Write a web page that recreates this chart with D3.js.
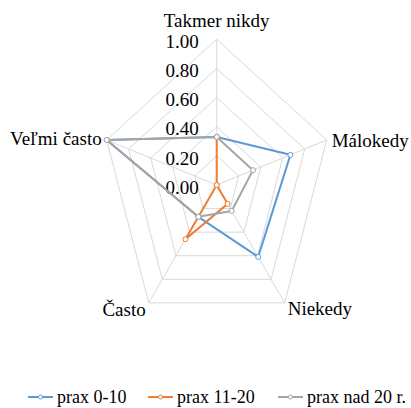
<!DOCTYPE html>
<html>
<head>
<meta charset="utf-8">
<script src="https://cdn.jsdelivr.net/npm/d3@7"></script>
<style>
  body { margin: 0; background: #fff; }
</style>
</head>
<body>
<svg id="chart"></svg>
<script>
// data
const categories = ["Takmer nikdy", "Málokedy", "Niekedy", "Často", "Veľmi často"];
const prax0_10   = [0.33, 0.67, 0.61, 0.27, 1.00];
const prax11_20  = [0.33, 0.00, 0.16, 0.46, 0.00];
const praxNad20  = [0.33, 0.33, 0.22, 0.27, 1.00];
const seriesNames = ["prax 0-10", "prax 11-20", "prax nad 20 r."];
const tickValues = [0, 0.2, 0.4, 0.6, 0.8, 1.0];

const colors = ["#5B9BD5", "#ED7D31", "#A5A5A5"];
const series = [prax0_10, prax11_20, praxNad20].map((v, i) => ({name: seriesNames[i], values: v, color: colors[i]}));

const W = 411, H = 408;
const cx = 216.7, cy = 185;
const squash = 0.794;   // the original plot is narrower than tall
const FONT = "'Liberation Serif'";

const svg = d3.select("#chart").attr("width", W).attr("height", H);
const g = svg.append("g").attr("transform", "translate(" + cx + "," + cy + ")");

const r = d3.scaleLinear().domain([0, 1]).range([0, 145.7]);
const angle = d3.scaleLinear().domain([0, categories.length]).range([-Math.PI / 2, 1.5 * Math.PI]);

function pt(i, v) {
    const a = angle(i);
    return [r(v) * Math.cos(a) * squash, r(v) * Math.sin(a)];
}

// grid rings
tickValues.filter(t => t > 0).forEach(t => {
    g.append("path")
        .attr("d", d3.line()(categories.map((c, i) => pt(i, t))) + "Z")
        .attr("fill", "none")
        .attr("stroke", "#D9D9D9")
        .attr("stroke-width", 1);
});

// spokes
categories.forEach((c, i) => {
    const p = pt(i, 1);
    g.append("line")
        .attr("x1", 0).attr("y1", 0)
        .attr("x2", p[0]).attr("y2", p[1])
        .attr("stroke", "#D9D9D9")
        .attr("stroke-width", 1);
});

// tick labels
g.selectAll(".tick-label")
    .data(tickValues)
    .join("text")
    .attr("class", "tick-label")
    .attr("x", -18)
    .attr("y", d => -r(d) + 2)
    .attr("dy", "0.35em")
    .attr("text-anchor", "end")
    .style("font-family", FONT)
    .attr("font-size", 19)
    .attr("fill", "#000")
    .text(d3.format(".2f"));

// category labels
const labelOffsets = [
    {dx: 0, dy: -12, anchor: "middle"},
    {dx: 5, dy: 7, anchor: "start"},
    {dx: 3, dy: 12, anchor: "start"},
    {dx: -3, dy: 13, anchor: "end"},
    {dx: -5, dy: 5, anchor: "end"}
];
categories.forEach((c, i) => {
    const p = pt(i, 1);
    g.append("text")
        .attr("x", p[0] + labelOffsets[i].dx)
        .attr("y", p[1] + labelOffsets[i].dy)
        .attr("text-anchor", labelOffsets[i].anchor)
        .style("font-family", FONT)
        .attr("font-size", 19)
        .attr("fill", "#000")
        .text(c);
});

// series
const line = d3.line().curve(d3.curveLinearClosed);
series.forEach(s => {
    const pts = s.values.map((v, i) => pt(i, v));
    g.append("path")
        .attr("d", line(pts))
        .attr("fill", "none")
        .attr("stroke", s.color)
        .attr("stroke-width", 2)
        .attr("stroke-linejoin", "round");
    g.selectAll(null)
        .data(pts)
        .join("circle")
        .attr("cx", d => d[0])
        .attr("cy", d => d[1])
        .attr("r", 2.5)
        .attr("fill", "#fff")
        .attr("stroke", s.color)
        .attr("stroke-width", 1);
});

// legend
const legendX = [28, 148, 278];
const legendY = 397;
series.forEach((s, i) => {
    const lg = svg.append("g").attr("transform", "translate(" + legendX[i] + "," + legendY + ")");
    lg.append("line")
        .attr("x1", 0).attr("x2", 25)
        .attr("stroke", s.color)
        .attr("stroke-width", 2);
    lg.append("circle")
        .attr("cx", 12.5).attr("r", 2)
        .attr("fill", "#fff")
        .attr("stroke", s.color)
        .attr("stroke-width", 1);
    lg.append("text")
        .attr("x", 29)
        .attr("dy", "0.35em")
        .style("font-family", FONT)
        .attr("font-size", 18)
        .attr("fill", "#000")
        .text(s.name);
});
</script>
</body>
</html>
